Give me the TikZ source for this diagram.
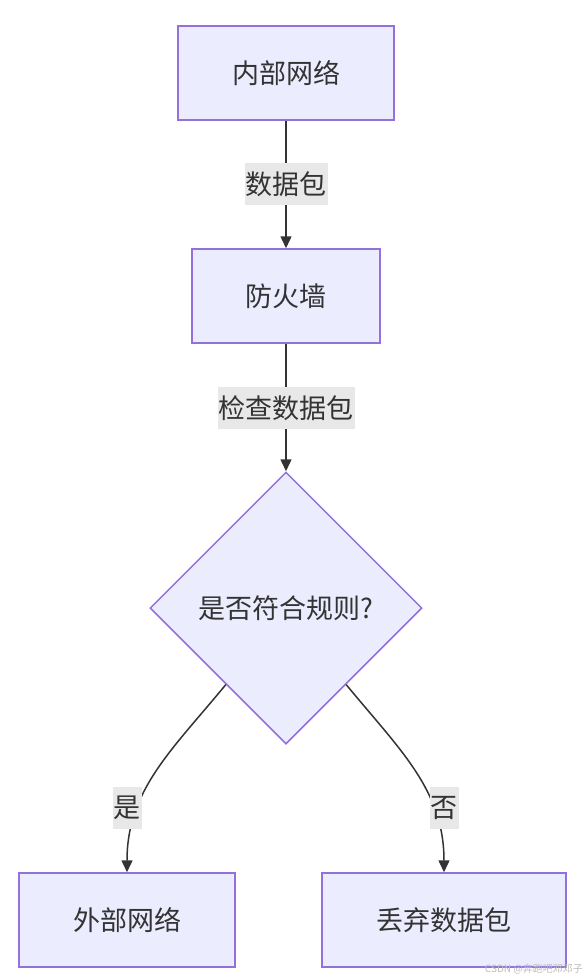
\documentclass[tikz,border=0pt]{standalone}
\usepackage{fontspec}
\setmainfont{Noto Sans CJK SC}
\usetikzlibrary{shapes.geometric,arrows.meta,calc}
\definecolor{nodefill}{HTML}{ECECFF}
\definecolor{nodeline}{HTML}{9370DB}
\definecolor{edgecol}{HTML}{333333}
\definecolor{lblbg}{HTML}{E8E8E8}
\definecolor{wmark}{HTML}{BBBBBB}
\begin{document}
\begin{tikzpicture}[x=1pt,y=-1pt,
  box/.style={draw=nodeline,fill=nodefill,line width=1.5pt,minimum height=94pt,inner sep=0pt,font=\fontsize{27}{32}\selectfont,text=edgecol},
  decision/.style={diamond,draw=nodeline,fill=nodefill,line width=1.5pt,minimum width=272pt,minimum height=272pt,inner sep=0pt,aspect=1,font=\fontsize{27}{32}\selectfont,text=edgecol},
  lbl/.style={fill=lblbg,inner xsep=1pt,inner ysep=0pt,minimum height=42pt,font=\fontsize{27}{32}\selectfont,text=edgecol},
  conn/.style={draw=edgecol,line width=1.5pt,-{Triangle[length=12pt,width=11pt]}}
]
\useasboundingbox (0,0) rectangle (586,980);
\node[box,minimum width=216pt] (inner) at (286,73) {内部网络};
\node[box,minimum width=188pt] (fw) at (286,296) {防火墙};
\node[decision] (d) at (286,608) {是否符合规则?};
\node[box,minimum width=216pt] (ext) at (127,920) {外部网络};
\node[box,minimum width=244pt] (drop) at (444,920) {丢弃数据包};

\draw[conn] (inner.south) -- (fw.north);
\draw[conn] (fw.south) -- (d.north);
\coordinate (dl) at ($(d.west)!0.56!(d.south)$);
\coordinate (dr) at ($(d.east)!0.56!(d.south)$);
\draw[conn] (dl) .. controls (172,750) and (127,790) .. (ext.north);
\draw[conn] (dr) .. controls (400,750) and (444,790) .. (drop.north);

\node[lbl] (l1) at (286,184) {数据包};
\node[lbl] (l2) at (286,408) {检查数据包};
\node[lbl] (l3) at (127,808) {是};
\node[lbl] (l4) at (444,808) {否};
\node[text=wmark,font=\fontsize{10}{11}\selectfont,anchor=east,inner sep=0pt] (wm) at (583,969) {CSDN @奔跑吧邓邓子};
\end{tikzpicture}
\end{document}
